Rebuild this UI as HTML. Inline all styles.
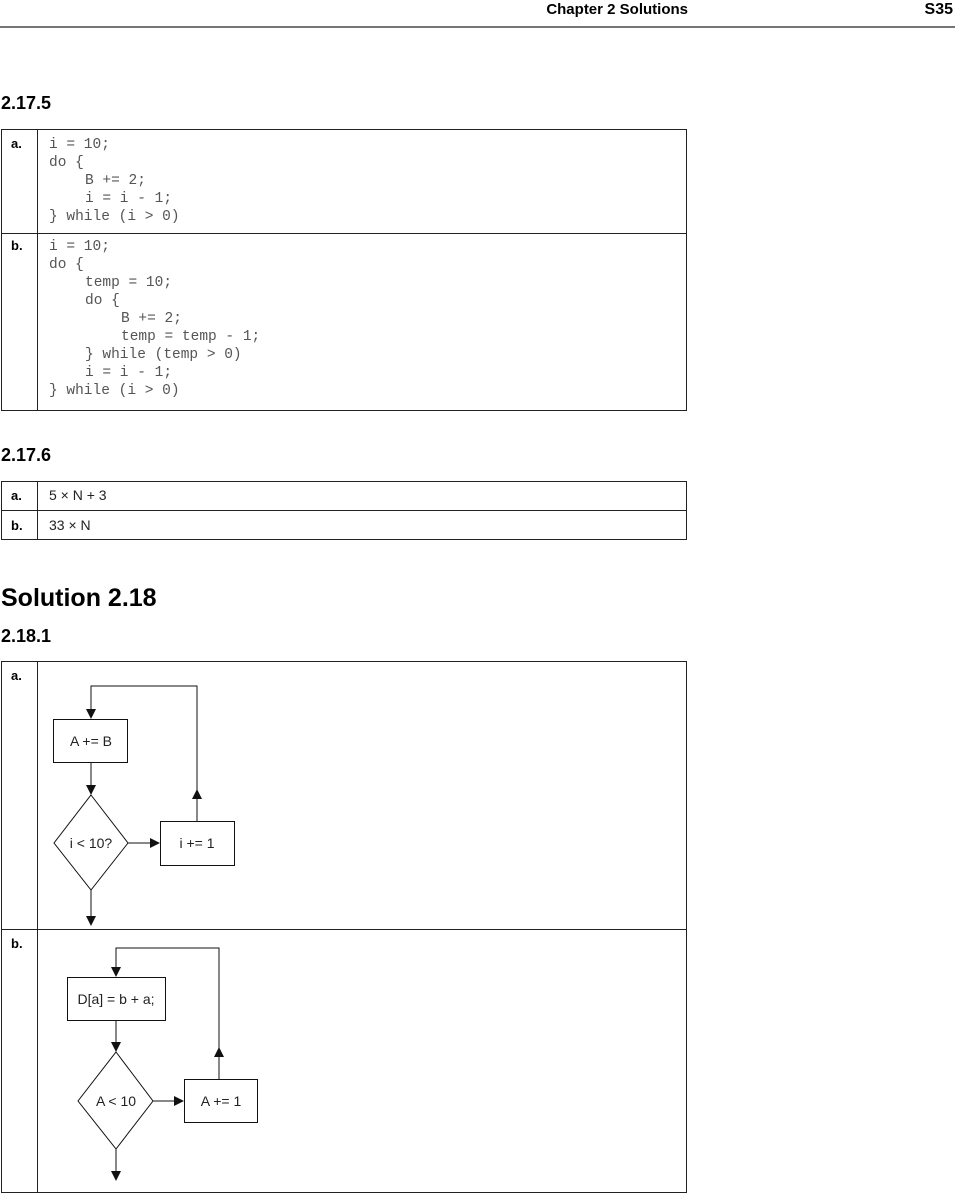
<!DOCTYPE html>
<html><head><meta charset="utf-8"><style>
html,body{margin:0;padding:0;background:#fff;}
svg{display:block;}
.h{font-family:"Liberation Sans",sans-serif;font-weight:bold;}
.m{font-family:"Liberation Mono",monospace;font-size:14.5px;fill:#555;}
.s{font-family:"Liberation Sans",sans-serif;font-size:14px;fill:#222;}
</style></head><body>
<svg width="955" height="1194" viewBox="0 0 955 1194" xmlns="http://www.w3.org/2000/svg">
<defs><marker id="ar" markerWidth="10" markerHeight="10" refX="9" refY="5" orient="auto" markerUnits="userSpaceOnUse"><path d="M0,0 L10,5 L0,10 z" fill="#111"/></marker></defs>
<text class="h" x="688" y="14" font-size="15" text-anchor="end">Chapter 2   Solutions</text>
<text class="h" x="953" y="14" font-size="16" text-anchor="end">S35</text>
<line x1="0" y1="27" x2="955" y2="27" stroke="#222" stroke-width="1.2"/>

<text class="h" x="1" y="109" font-size="18">2.17.5</text>
<rect x="1.5" y="129.5" width="685" height="281" fill="none" stroke="#222"/>
<line x1="37.5" y1="129" x2="37.5" y2="411" stroke="#222"/>
<line x1="1" y1="233.5" x2="687" y2="233.5" stroke="#222"/>
<text class="h" x="11" y="148" font-size="13">a.</text>
<text class="h" x="11" y="250" font-size="13">b.</text>
<g class="m">
<text x="49" y="148">i = 10;</text>
<text x="49" y="166">do {</text>
<text x="85" y="184">B += 2;</text>
<text x="85" y="202">i = i - 1;</text>
<text x="49" y="220">} while (i &gt; 0)</text>
<text x="49" y="250">i = 10;</text>
<text x="49" y="268">do {</text>
<text x="85" y="286">temp = 10;</text>
<text x="85" y="304">do {</text>
<text x="121" y="322">B += 2;</text>
<text x="121" y="340">temp = temp - 1;</text>
<text x="85" y="358">} while (temp &gt; 0)</text>
<text x="85" y="376">i = i - 1;</text>
<text x="49" y="394">} while (i &gt; 0)</text>
</g>

<text class="h" x="1" y="461" font-size="18">2.17.6</text>
<rect x="1.5" y="481.5" width="685" height="58" fill="none" stroke="#222"/>
<line x1="37.5" y1="481" x2="37.5" y2="540" stroke="#222"/>
<line x1="1" y1="510.5" x2="687" y2="510.5" stroke="#222"/>
<text class="h" x="11" y="500" font-size="13">a.</text>
<text class="h" x="11" y="530" font-size="13">b.</text>
<text class="s" x="49" y="500">5 × N + 3</text>
<text class="s" x="49" y="530">33 × N</text>

<text class="h" x="1" y="606" font-size="25">Solution 2.18</text>
<text class="h" x="1" y="642" font-size="18">2.18.1</text>
<rect x="1.5" y="661.5" width="685" height="531" fill="none" stroke="#222"/>
<line x1="37.5" y1="661" x2="37.5" y2="1193" stroke="#222"/>
<line x1="1" y1="929.5" x2="687" y2="929.5" stroke="#222"/>
<text class="h" x="11" y="680" font-size="13">a.</text>
<text class="h" x="11" y="948" font-size="13">b.</text>

<g stroke="#111" stroke-width="1" fill="none">
<rect x="53.5" y="719.5" width="74" height="43"/>
<polygon points="91,795 128,843 91,890 54,843"/>
<rect x="160.5" y="821.5" width="74" height="44"/>
<polyline points="197,821 197,686 91,686 91,718" marker-end="url(#ar)"/>
<line x1="197" y1="821" x2="197" y2="790" marker-end="url(#ar)"/>
<line x1="91" y1="762" x2="91" y2="794" marker-end="url(#ar)"/>
<line x1="128" y1="843" x2="159" y2="843" marker-end="url(#ar)"/>
<line x1="91" y1="890" x2="91" y2="925" marker-end="url(#ar)"/>
<rect x="67.5" y="977.5" width="98" height="43"/>
<polygon points="116,1052 153,1101 116,1149 78,1101"/>
<rect x="184.5" y="1079.5" width="73" height="43"/>
<polyline points="219,1079 219,948 116,948 116,976" marker-end="url(#ar)"/>
<line x1="219" y1="1079" x2="219" y2="1048" marker-end="url(#ar)"/>
<line x1="116" y1="1020" x2="116" y2="1051" marker-end="url(#ar)"/>
<line x1="153" y1="1101" x2="183" y2="1101" marker-end="url(#ar)"/>
<line x1="116" y1="1149" x2="116" y2="1180" marker-end="url(#ar)"/>
</g>
<g class="s" text-anchor="middle">
<text x="91" y="746">A += B</text>
<text x="91" y="848">i &lt; 10?</text>
<text x="197" y="848">i += 1</text>
<text x="116" y="1004">D[a] = b + a;</text>
<text x="116" y="1106">A &lt; 10</text>
<text x="221" y="1106">A += 1</text>
</g>
</svg>
</body></html>
